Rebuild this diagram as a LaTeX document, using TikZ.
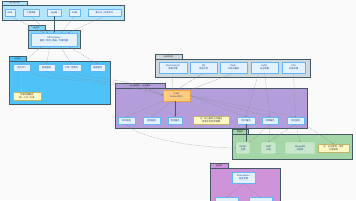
\documentclass[tikz,border=0pt]{standalone}
\usepackage{fontspec}
\setmainfont{Noto Sans CJK SC}
\usetikzlibrary{arrows.meta,shadows}

\definecolor{bg}{HTML}{FAFAFA}
\definecolor{grpline}{HTML}{455A64}
\definecolor{gaccess}{HTML}{B3E5FC}
\definecolor{ggate}{HTML}{81D4FA}
\definecolor{gbiz}{HTML}{4FC3F7}
\definecolor{gmid}{HTML}{CFD8DC}
\definecolor{gcore}{HTML}{B39DDB}
\definecolor{gdata}{HTML}{A5D6A7}
\definecolor{gmon}{HTML}{CE93D8}
\definecolor{svcfill}{HTML}{E3F2FD}
\definecolor{svcline}{HTML}{64B5F6}
\definecolor{svctext}{HTML}{1A3F8A}
\definecolor{corefill}{HTML}{FFCC80}
\definecolor{coreline}{HTML}{F0A040}
\definecolor{notefill}{HTML}{FFF9C4}
\definecolor{noteline}{HTML}{BFB36A}
\definecolor{dbfill}{HTML}{C8E6C9}
\definecolor{dbline}{HTML}{81C784}
\definecolor{lnk}{HTML}{8A8A8A}

\begin{document}
\begin{tikzpicture}[x=0.05cm, y=-0.05cm, font=\fontsize{3.2}{3.8}\selectfont,
    >={Stealth[length=1.6pt,width=1.4pt]},
    grp/.style={draw=grpline, line width=0.5pt,
      drop shadow={shadow xshift=0.8pt, shadow yshift=-0.8pt, fill=black, opacity=0.45}},
    tab/.style={draw=grpline, line width=0.4pt, anchor=south west, inner sep=0.5pt,
      minimum height=0.22cm, text=black!85, font=\fontsize{2.8}{3.2}\selectfont},
    svc/.style 2 args={draw=svcline, fill=svcfill, line width=0.3pt, text=svctext,
      minimum width=#1*0.05cm, minimum height=#2*0.05cm, inner sep=0pt, align=center},
    core/.style 2 args={svc={#1}{#2}, fill=corefill, draw=coreline},
    memo/.style 2 args={svc={#1}{#2}, fill=notefill, draw=noteline, text=black!80},
    db/.style 2 args={svc={#1}{#2}, fill=dbfill, draw=dbline, rounded corners=1.2pt},
    flow/.style={draw=lnk, dash pattern=on 1.2pt off 0.9pt, line width=0.3pt, ->},
    main/.style={draw=grpline, line width=0.5pt, ->},
    memolink/.style={draw=noteline, dash pattern=on 1pt off 0.8pt, line width=0.3pt}]

    % background
    \fill[bg] (0,0) rectangle (356,200);
    \useasboundingbox (0,0) rectangle (356,200);
    \clip (0,0) rectangle (356,200);

    % groups
    \draw[grp, fill=gaccess] (2,5.5) rectangle (124,20);
    \node[tab, fill=gaccess, minimum width=1.25cm] (t1) at (2,5.5) {用户接入层};
    \draw[grp, fill=ggate] (28,30) rectangle (80,48);
    \node[tab, fill=ggate, minimum width=0.85cm] (t2) at (28,30) {网关层};
    \draw[grp, fill=gbiz] (9,61) rectangle (110,104);
    \node[tab, fill=gbiz, minimum width=0.85cm] (t3) at (9,61) {业务层};
    \draw[grp, fill=gmid] (155,59) rectangle (310,77);
    \node[tab, fill=gmid, minimum width=1.35cm] (t4) at (155,59) {外部中间件};
    \draw[grp, fill=gcore] (115,88) rectangle (307,128);
    \node[tab, fill=gcore, minimum width=2.5cm] (t5) at (115,88) {核心服务层 · 业务编排};
    \draw[grp, fill=gdata] (232,134) rectangle (352,159);
    \node[tab, fill=gdata, minimum width=0.8cm] (t6) at (232,134) {数据层};
    \draw[grp, fill=gmon] (210,168) rectangle (280,210);
    \node[tab, fill=gmon, minimum width=0.9cm] (t7) at (210,168) {监控层};

    % access nodes
    \node[svc={10}{7}] (u1) at (10,12.5) {Web};
    \node[svc={16}{7}] (u2) at (31,12.5) {小程序端};
    \node[svc={14}{7}] (u3) at (54,12.5) {App端};
    \node[svc={11}{7}] (u4) at (74.5,12.5) {H5端};
    \node[svc={33}{7}] (u5) at (104.5,12.5) {第三方 / 开放平台};

    % gateway
    \node[svc={46}{13}] (gw) at (54,39.5) {API Gateway\\鉴权 / 限流 / 路由 / 负载均衡};

    % business nodes
    \node[svc={17}{7}] (s1) at (21.5,67.5) {用户API};
    \node[svc={17}{7}] (s2) at (46.5,67.5) {商品服务};
    \node[svc={19}{7}] (s3) at (71.5,67.5) {订单 / 购物车};
    \node[svc={15}{7}] (s4) at (97.5,67.5) {搜索服务};
    \node[memo={28}{8}] (n1) at (27,96) {负载均衡服务\\统一入口 / 分发};

    % middleware
    \node[svc={28}{11}] (e1) at (173,67.5) {Elasticsearch\\搜索引擎};
    \node[svc={27}{11}] (e2) at (203.5,67.5) {MQ\\消息队列};
    \node[svc={27}{11}] (e3) at (233.5,67.5) {Redis\\分布式缓存};
    \node[svc={27}{11}] (e4) at (264.5,67.5) {Kafka\\日志收集};
    \node[svc={23}{11}] (e5) at (293.5,67.5) {OSS\\对象存储};

    % core services
    \node[core={27}{11}] (core) at (176.5,95.5) {Order\\Service 核心};
    \node[svc={17}{7}] (b1) at (126.5,120.5) {库存服务};
    \node[svc={17}{7}] (b2) at (151.5,120.5) {营销服务};
    \node[svc={14}{7}] (b3) at (175,120.5) {物流服务};
    \node[memo={36}{8}] (bn) at (211,120) {注：核心服务之间通过\\消息队列异步解耦};
    \node[svc={18}{7}] (b4) at (246,120.5) {用户服务};
    \node[svc={16}{7}] (b5) at (270,120.5) {结算服务};
    \node[svc={17}{7}] (b6) at (295.5,120.5) {风控服务};

    % data
    \node[db={14}{12}] (d1) at (243,148) {MySQL\\主库};
    \node[db={15}{12}] (d2) at (268.5,148) {从库\\只读};
    \node[db={30}{12}] (d3) at (300,148) {MongoDB\\日志库};
    \node[memo={31}{8}] (dn) at (333.5,148) {注：主从复制，读写\\分离架构};

    % monitoring
    \node[svc={23}{11}] (m1) at (243.5,177.5) {Prometheus\\监控告警};
    \node[svc={23}{7}] (m2) at (226.5,201) {};
    \node[svc={23}{7}] (m3) at (260.5,201) {};

    % access -> gateway
    \draw[flow] (u1.south) -- ([xshift=-0.5cm]gw.north);
    \draw[flow] (u2.south) -- ([xshift=-0.3cm]gw.north);
    \draw[main] (u3.south) -- (gw.north);
    \draw[flow] (u4.south) -- ([xshift=0.35cm]gw.north);
    \draw[flow] (u5.south) -- ([xshift=0.7cm]gw.north);

    % gateway -> business
    \draw[flow] ([xshift=-0.6cm]gw.south) -- (s1.north);
    \draw[flow] ([xshift=-0.2cm]gw.south) -- (s2.north);
    \draw[flow] ([xshift=0.3cm]gw.south) -- (s3.north);
    \draw[flow] ([xshift=0.7cm]gw.south) -- (s4.north);
    \draw[memolink] (s1.south) -- (n1.north -| s1.south);

    % business -> core
    \draw[flow] (s1.south east) .. controls (30,80) and (120,80) .. (core.west);
    \draw[flow] (s2.south) .. controls (55,80) and (125,78) .. (core.west);
    \draw[flow] (s3.south) .. controls (80,80) and (130,76) .. (core.west);

    % middleware -> core
    \draw[flow] (e1.south) -- ([xshift=-0.2cm]core.north);
    \draw[flow] (e2.south) -- (core.north);
    \draw[flow] (e3.south) -- (core.north east);
    \draw[flow] ([xshift=-0.3cm]e4.south) -- (b4.north);
    \draw[flow] (e4.south) -- (b5.north);
    \draw[flow] (e5.south) -- (b6.north);

    % core -> services
    \draw[flow] (core.south west) -- (b1.north);
    \draw[flow] ([xshift=-0.2cm]core.south) -- (b2.north);
    \draw[main] (core.south -| b3.north) -- (b3.north);
    \draw[memolink] (core.south east) -- (bn.north);
    \draw[flow] (core.east) -- (b4.north);
    \draw[flow] (core.east) -- (b5.north);
    \draw[flow] (core.east) -- (b6.north);

    % services -> data
    \draw[main] (b4.south) -- (b4.south |- d1.north);
    \draw[flow] (b5.south) -- (d1.north east);
    \draw[flow] (b5.south) -- (d2.north);
    \draw[flow] (b6.south) -- (d2.north);
    \draw[flow] (b6.south) -- (d3.north);
    \draw[flow] (b6.south east) -- (dn.north);
    \draw[flow] (b1.south) .. controls (135,138) and (200,148) .. (d1.west);

    % monitoring
    \draw[flow] (m1.south) -- (m2.north);
    \draw[flow] (m1.south) -- (m3.north);
\end{tikzpicture}
\end{document}
